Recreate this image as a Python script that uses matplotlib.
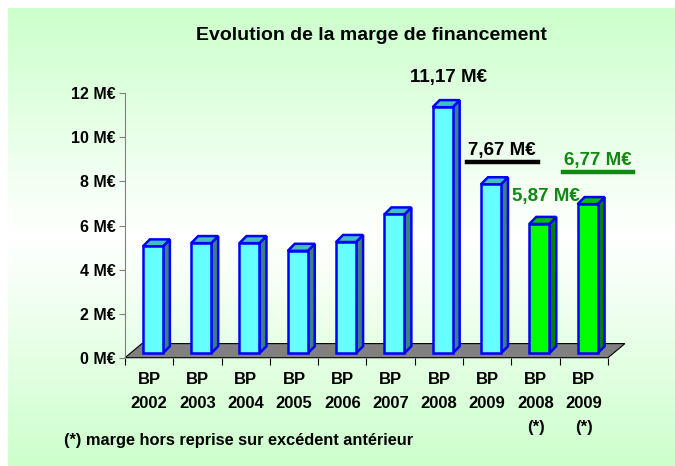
import numpy as np
import matplotlib
matplotlib.use("Agg")
import matplotlib.pyplot as plt
from matplotlib.patches import Polygon
from matplotlib.colors import LinearSegmentedColormap

# Données (marge de financement, en M€)
categories = ["BP\n2002", "BP\n2003", "BP\n2004", "BP\n2005", "BP\n2006",
              "BP\n2007", "BP\n2008", "BP\n2009", "BP\n2008\n(*)", "BP\n2009\n(*)"]
valeurs = [4.85, 5.0, 5.0, 4.65, 5.05, 6.3, 11.17, 7.67, 5.87, 6.77]
hors_reprise = [False] * 8 + [True, True]
yticks = [0, 2, 4, 6, 8, 10, 12]
etiquettes = {6: "11,17 M€", 7: "7,67 M€", 8: "5,87 M€", 9: "6,77 M€"}

police = ["Liberation Sans Narrow", "Liberation Sans", "DejaVu Sans"]
plt.rcParams["font.family"] = police
plt.rcParams["font.weight"] = "bold"

W, H = 675, 466
fig = plt.figure(figsize=(W / 100, H / 100), dpi=100)

# fond en dégradé vert clair -> blanc -> vert clair
bg = fig.add_axes([8 / W, 0, 1 - 8 / W, (H - 8) / H])
bg.set_axis_off()
cmap = LinearSegmentedColormap.from_list("fond", ["#ccffcc", "#ffffff", "#ccffcc"])
grad = np.linspace(0, 1, 256).reshape(-1, 1)
bg.imshow(grad, aspect="auto", cmap=cmap, extent=[0, 1, 0, 1], origin="upper")

# axe principal (en pixels de la figure)
x0p, x1p, y0p, y12p = 125, 608, 357.7, 93.3
ax = fig.add_axes([x0p / W, (H - y0p) / H, (x1p - x0p) / W, (y0p - y12p) / H])
ax.set_xlim(0, len(valeurs))
ax.set_ylim(0, 12)
ax.patch.set_alpha(0)
for s in ["top", "right"]:
    ax.spines[s].set_visible(False)
ax.spines["left"].set_color("#808080")
ax.spines["bottom"].set_visible(False)

ax.set_yticks(yticks)
ax.set_yticklabels([f"{t} M€" for t in yticks], fontsize=11.5, fontweight="bold")
ax.tick_params(axis="y", length=4, color="#808080", pad=3)
ax.set_xticks(np.arange(len(valeurs) + 1))
ax.set_xticklabels([])
ax.tick_params(axis="x", length=5, color="black")
ax.set_xticks(np.arange(len(valeurs)) + 0.5, minor=True)
ax.set_xticklabels(categories, minor=True, fontsize=12, fontweight="bold",
                   linespacing=1.75, va="top")
ax.tick_params(axis="x", which="minor", length=0, pad=10)

# sol gris en perspective
n = len(valeurs)
fdx, fdy = 0.35, 0.64
ax.add_patch(Polygon([(0, 0), (n, 0), (n + fdx, fdy), (fdx, fdy)], closed=True,
                     facecolor="#808080", edgecolor="black", lw=0.8,
                     clip_on=False, zorder=1))

# barres 3D
base, larg, dx, dy = 0.2, 0.414, 0.145, 0.32
xs = np.arange(n) + 0.37
for i, v in enumerate(valeurs):
    if hors_reprise[i]:
        face, cote, dessus = "#00ff00", "#008000", "#00c000"
    else:
        face, cote, dessus = "#66ffff", "#3c8080", "#40c0c0"
    x = xs[i]
    ax.add_patch(Polygon([(x + larg, base), (x + larg + dx, base + dy),
                          (x + larg + dx, base + v + dy), (x + larg, base + v)],
                         closed=True, facecolor=cote, edgecolor="#0000ff", lw=1.8,
                         joinstyle="miter", clip_on=False, zorder=3))
    ax.add_patch(Polygon([(x, base + v), (x + larg, base + v),
                          (x + larg + dx, base + v + dy), (x + dx, base + v + dy)],
                         closed=True, facecolor=dessus, edgecolor="#0000ff", lw=1.8,
                         joinstyle="miter", clip_on=False, zorder=3))
bars = ax.bar(xs, valeurs, width=larg, bottom=base, align="edge",
              color=["#00ff00" if h else "#66ffff" for h in hors_reprise],
              edgecolor="#0000ff", linewidth=1.8, zorder=4, clip_on=False)

# étiquettes de valeurs
decalages = {6: (6, 30), 7: (11, 34), 8: (7, 27), 9: (10, 44)}
couleurs = {6: "black", 7: "black", 8: "#118811", 9: "#118811"}
textes = {}
for i, lab in etiquettes.items():
    b = bars[i]
    cx = b.get_x() + b.get_width() / 2
    cy = b.get_y() + b.get_height()
    textes[i] = ax.annotate(lab, (cx, cy), xytext=decalages[i], textcoords="offset pixels",
                            ha="center", va="center", fontsize=13.5, fontweight="bold",
                            color=couleurs[i], annotation_clip=False, zorder=6)

# soulignés sous 7,67 et 6,77
fig.canvas.draw()
rend = fig.canvas.get_renderer()
for i, col in [(7, "black"), (9, "#118811")]:
    bb = textes[i].get_window_extent(rend)
    yl = bb.y0 - 3
    fig.add_artist(plt.Line2D([(bb.x0 - 1) / W, (bb.x1 + 2) / W], [yl / H, yl / H],
                              color=col, lw=3.2, transform=fig.transFigure))

fig.text(371 / W, 1 - 35 / H, "Evolution de la marge de financement",
         ha="center", va="center", fontsize=14, fontweight="bold")
fig.text(64 / W, 1 - 440 / H, "(*) marge hors reprise sur excédent antérieur",
         ha="left", va="center", fontsize=11.8, fontweight="bold")

fig.savefig("out.png", dpi=100)
